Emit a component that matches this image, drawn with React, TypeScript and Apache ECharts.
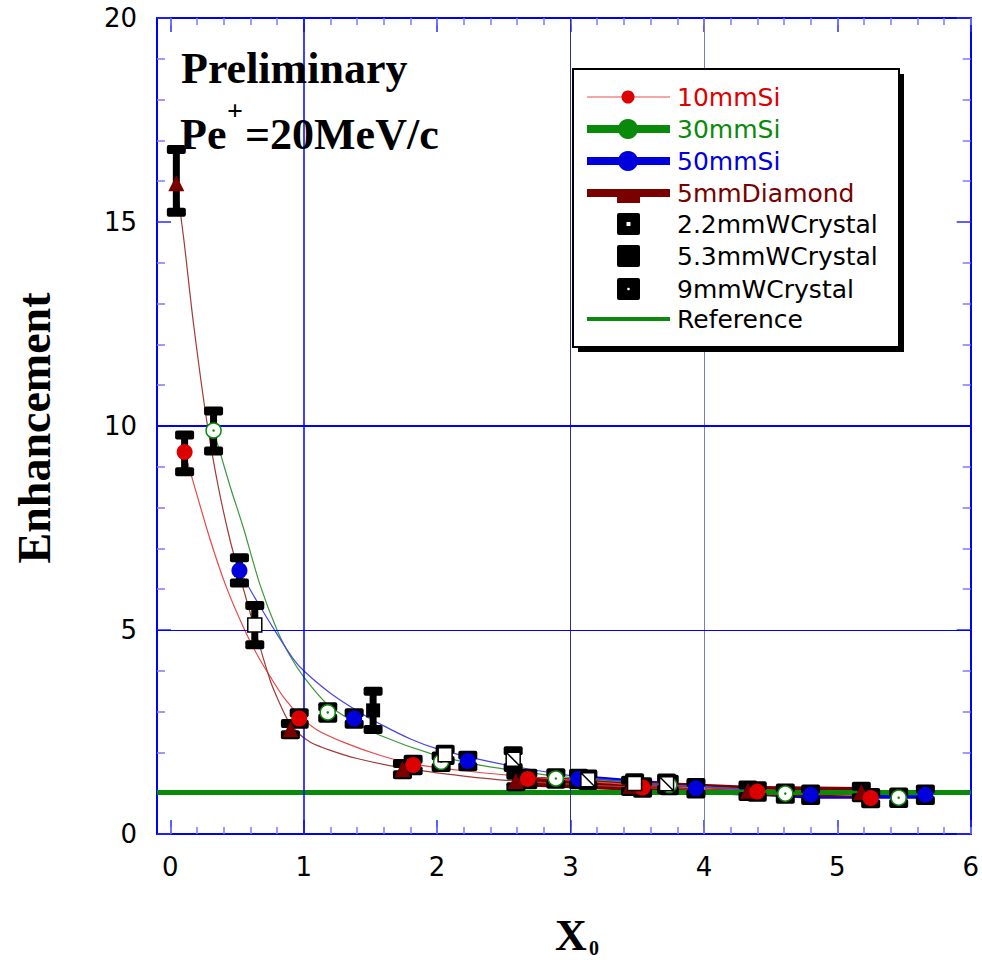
import React, { useEffect, useRef } from 'react';
import * as echarts from 'echarts';

// ---- ticks ----
const xMajorTicks = [0, 1, 2, 3, 4, 5, 6];
const xMinorTicks = [0, 0.2, 0.4, 0.6, 0.8, 1, 1.2, 1.4, 1.6, 1.8, 2, 2.2, 2.4, 2.6, 2.8, 3, 3.2, 3.4, 3.6, 3.8, 4, 4.2, 4.4, 4.6, 4.8, 5, 5.2, 5.4, 5.6, 5.8, 6];
const xLabels = ['0', '1', '2', '3', '4', '5', '6'];

// ---- measured points [x, enhancement] and error ranges [low, high] ----
const si10 = [[0.107, 9.36], [0.966, 2.83], [1.82, 1.69], [2.68, 1.35], [3.54, 1.14], [4.40, 1.04], [5.25, 0.88]];
const si10Err = [[8.88, 9.78], [2.69, 2.97], [1.55, 1.83], [1.21, 1.49], [1.0, 1.28], [0.9, 1.18], [0.74, 1.02]];

const si30 = [[0.324, 9.89], [1.18, 2.98], [2.03, 1.77], [2.89, 1.36], [3.74, 1.2], [4.61, 0.99], [5.46, 0.89]];
const si30Err = [[9.39, 10.37], [2.84, 3.12], [1.63, 1.91], [1.22, 1.5], [1.06, 1.34], [0.85, 1.13], [0.75, 1.03]];

const si50 = [[0.518, 6.46], [1.378, 2.83], [2.23, 1.79], [3.06, 1.35], [3.94, 1.12], [4.80, 0.96], [5.66, 0.96]];
const si50Err = [[6.15, 6.77], [2.69, 2.97], [1.65, 1.93], [1.21, 1.49], [0.98, 1.26], [0.82, 1.1], [0.82, 1.1]];

const diamond5 = [[0.045, 15.95], [0.90, 2.57], [1.74, 1.59], [2.59, 1.30], [3.45, 1.18], [4.33, 1.06], [5.18, 1.03]];
const diamond5Err = [[15.24, 16.78], [2.43, 2.71], [1.45, 1.73], [1.16, 1.44], [1.04, 1.32], [0.92, 1.2], [0.89, 1.17]];

const w22 = [[0.633, 5.12], [2.06, 1.94], [3.48, 1.24]];
const w22Err = [[4.64, 5.6], [1.8, 2.08], [1.1, 1.38]];

const w53 = [[1.52, 3.03]];
const w53Err = [[2.56, 3.5]];

const w9 = [[2.57, 1.83], [3.13, 1.33], [3.72, 1.23]];
const w9Err = [[1.63, 2.04], [1.19, 1.47], [1.09, 1.37]];

const reference = [[-0.1, 1.02], [6, 1.02]];

// ---- fitted curves ----
const fit10 = [[0.107, 9.36], [0.174, 8.6], [0.30, 7.2], [0.42, 6.05], [0.55, 5.05], [0.65, 4.4], [0.75, 3.85], [0.85, 3.35], [0.97, 2.9], [1.1, 2.55], [1.32, 2.22], [1.57, 1.93], [1.82, 1.72], [2.2, 1.55], [2.57, 1.43], [3.0, 1.32], [3.5, 1.2], [4.4, 1.06], [5.25, 0.92]];
const fitDiamond = [[0.045, 15.95], [0.10, 14.6], [0.174, 12.5], [0.274, 10.1], [0.36, 8.5], [0.448, 7.2], [0.523, 6.3], [0.635, 5.0], [0.75, 3.75], [0.82, 3.2], [0.88, 2.8], [0.95, 2.5], [1.05, 2.25], [1.2, 2.05], [1.4, 1.85], [1.74, 1.62], [2.2, 1.42], [2.59, 1.30], [3.45, 1.15], [4.33, 1.06], [5.18, 0.98]];
const fit30 = [[0.324, 9.89], [0.374, 9.34], [0.45, 8.5], [0.548, 7.5], [0.673, 6.1], [0.80, 5.0], [0.90, 4.35], [1.0, 3.85], [1.17, 3.2], [1.35, 2.8], [1.57, 2.42], [1.97, 1.95], [2.3, 1.7], [2.57, 1.56], [2.89, 1.42], [3.3, 1.3], [3.74, 1.2], [4.61, 1.06], [5.46, 0.96]];
const fit50 = [[0.518, 6.46], [0.648, 5.71], [0.80, 4.9], [0.92, 4.3], [1.0, 4.0], [1.2, 3.45], [1.42, 2.98], [1.6, 2.65], [1.8, 2.33], [1.99, 2.1], [2.3, 1.84], [2.57, 1.66], [2.96, 1.45], [3.5, 1.26], [3.94, 1.16], [4.8, 1.02], [5.66, 0.96]];

const RED = '#dd0000';
const GREEN = '#0a8a0a';
const BLUE = '#0000dd';
const DRED = '#7a0000';

const LEG_FONT = '"DejaVu Sans", Verdana, sans-serif';
const SERIF = '"Liberation Serif", "Times New Roman", serif';

function errRows(pts: number[][], err: number[][]) {
  return pts.map((p, i) => [p[0], err[i][0], err[i][1]]);
}

export default function App() {
  const ref = useRef<HTMLDivElement>(null);
  useEffect(() => {
    const chart = echarts.init(ref.current!, null, { renderer: 'svg' });

    const errData = [
      ...errRows(diamond5, diamond5Err),
      ...errRows(si10, si10Err),
      ...errRows(si30, si30Err),
      ...errRows(si50, si50Err),
      ...errRows(w22, w22Err),
      ...errRows(w53, w53Err),
      ...errRows(w9, w9Err),
    ];

    const fitLine = (name: string, data: number[][], color: string) => ({
      name, type: 'line', data, smooth: 0.3, showSymbol: false, silent: true,
      lineStyle: { color, width: 1.2 }, z: 3,
    });

    const legendRowsY = [97, 129, 161, 193, 224, 256, 289, 319];
    const legendTexts = ['10mmSi', '30mmSi', '50mmSi', '5mmDiamond', '2.2mmWCrystal', '5.3mmWCrystal', '9mmWCrystal', 'Reference'];
    const legendColors = [RED, GREEN, BLUE, DRED, '#000', '#000', '#000', '#000'];
    const lx0 = 587, lx1 = 670, lmx = 628;

    const legendGraphics: any[] = [
      { type: 'rect', shape: { x: 578, y: 74, width: 326, height: 278 }, style: { fill: '#000' }, z: 100 },
      { type: 'rect', shape: { x: 573, y: 69, width: 326, height: 278 }, style: { fill: '#fff', stroke: '#000', lineWidth: 2 }, z: 101 },
      // 10mmSi
      { type: 'line', shape: { x1: lx0, y1: legendRowsY[0], x2: lx1, y2: legendRowsY[0] }, style: { stroke: '#e85050', lineWidth: 1.2 }, z: 102 },
      { type: 'circle', shape: { cx: lmx, cy: legendRowsY[0], r: 6.5 }, style: { fill: RED }, z: 103 },
      // 30mmSi
      { type: 'line', shape: { x1: lx0, y1: legendRowsY[1], x2: lx1, y2: legendRowsY[1] }, style: { stroke: GREEN, lineWidth: 8 }, z: 102 },
      { type: 'circle', shape: { cx: lmx, cy: legendRowsY[1], r: 10 }, style: { fill: GREEN }, z: 103 },
      // 50mmSi
      { type: 'line', shape: { x1: lx0, y1: legendRowsY[2], x2: lx1, y2: legendRowsY[2] }, style: { stroke: BLUE, lineWidth: 8 }, z: 102 },
      { type: 'circle', shape: { cx: lmx, cy: legendRowsY[2], r: 10 }, style: { fill: BLUE }, z: 103 },
      // 5mmDiamond
      { type: 'line', shape: { x1: lx0, y1: legendRowsY[3], x2: lx1, y2: legendRowsY[3] }, style: { stroke: DRED, lineWidth: 8 }, z: 102 },
      { type: 'rect', shape: { x: 617, y: legendRowsY[3] - 3, width: 23, height: 13 }, style: { fill: DRED }, z: 103 },
      // 2.2mm
      { type: 'rect', shape: { x: 617, y: legendRowsY[4] - 11, width: 23, height: 22, r: 2 }, style: { fill: '#000' }, z: 103 },
      { type: 'rect', shape: { x: 626.5, y: legendRowsY[4] - 2, width: 4, height: 4 }, style: { fill: '#fff' }, z: 104 },
      // 5.3mm
      { type: 'rect', shape: { x: 617, y: legendRowsY[5] - 11, width: 23, height: 22, r: 2 }, style: { fill: '#000' }, z: 103 },
      // 9mm
      { type: 'rect', shape: { x: 617, y: legendRowsY[6] - 11, width: 23, height: 22, r: 2 }, style: { fill: '#000' }, z: 103 },
      { type: 'circle', shape: { cx: 628.5, cy: legendRowsY[6], r: 1.3 }, style: { fill: '#fff' }, z: 104 },
      // Reference
      { type: 'line', shape: { x1: lx0, y1: legendRowsY[7], x2: lx1, y2: legendRowsY[7] }, style: { stroke: GREEN, lineWidth: 4 }, z: 102 },
      ...legendTexts.map((t, i) => ({
        type: 'text', x: 677, y: legendRowsY[i], z: 105,
        style: { text: t, fill: legendColors[i], fontSize: 25, fontFamily: LEG_FONT, align: 'left', verticalAlign: 'middle' },
      })),
    ];

    const titleGraphics: any[] = [
      { type: 'text', x: 181, y: 68, z: 90, style: { text: 'Preliminary', fill: '#000', fontSize: 44, fontWeight: 'bold', fontFamily: SERIF, align: 'left', verticalAlign: 'middle' } },
      { type: 'text', x: 180, y: 134, z: 90, style: { text: 'Pe', fill: '#000', fontSize: 44, fontWeight: 'bold', fontFamily: SERIF, align: 'left', verticalAlign: 'middle' } },
      { type: 'text', x: 227, y: 110, z: 90, style: { text: '+', fill: '#000', fontSize: 28, fontWeight: 'bold', fontFamily: SERIF, align: 'left', verticalAlign: 'middle' } },
      { type: 'text', x: 245, y: 134, z: 90, style: { text: '=20MeV/c', fill: '#000', fontSize: 44, fontWeight: 'bold', fontFamily: SERIF, align: 'left', verticalAlign: 'middle' } },
      { type: 'text', x: 34, y: 428, rotation: Math.PI / 2, z: 90, style: { text: 'Enhancement', fill: '#000', fontSize: 46, fontWeight: 'bold', fontFamily: SERIF, align: 'center', verticalAlign: 'middle' } },
      { type: 'text', x: 571, y: 935, z: 90, style: { text: 'X', fill: '#000', fontSize: 44, fontWeight: 'bold', fontFamily: SERIF, align: 'center', verticalAlign: 'middle' } },
      { type: 'text', x: 589, y: 948, z: 90, style: { text: '0', fill: '#000', fontSize: 20, fontWeight: 'bold', fontFamily: SERIF, align: 'left', verticalAlign: 'middle' } },
    ];

    const axisBlue = '#0000ff';
    const tickMajor = { color: '#2a2aff', width: 1.5 };
    const tickMinor = { color: '#7a7aff', width: 1.5 };

    const option: any = {
      animation: false,
      backgroundColor: '#fff',
      grid: { left: 157, top: 18, width: 816, height: 816, containLabel: false },
      xAxis: [
        {
          type: 'value', min: -0.1, max: 6, position: 'bottom',
          axisLine: { show: true, onZero: false, lineStyle: { color: axisBlue, width: 2 } },
          axisTick: { show: true, inside: true, length: 14, customValues: xMajorTicks, lineStyle: tickMajor },
          axisLabel: { show: true, customValues: xMajorTicks, formatter: (v: number) => xLabels[xMajorTicks.indexOf(v)] ?? String(v), color: '#000', fontSize: 26, fontFamily: LEG_FONT, margin: 20 },
          splitLine: { show: false },
        },
        {
          type: 'value', min: -0.1, max: 6, position: 'bottom',
          axisLine: { show: false, onZero: false },
          axisTick: { show: true, inside: true, length: 7, customValues: xMinorTicks, lineStyle: tickMinor },
          axisLabel: { show: false }, splitLine: { show: false },
        },
        {
          type: 'value', min: -0.1, max: 6, position: 'top',
          axisLine: { show: true, onZero: false, lineStyle: { color: axisBlue, width: 2 } },
          axisTick: { show: true, inside: true, length: 14, customValues: xMajorTicks, lineStyle: tickMajor },
          axisLabel: { show: false }, splitLine: { show: false },
        },
        {
          type: 'value', min: -0.1, max: 6, position: 'top',
          axisLine: { show: false, onZero: false },
          axisTick: { show: true, inside: true, length: 7, customValues: xMinorTicks, lineStyle: tickMinor },
          axisLabel: { show: false }, splitLine: { show: false },
        },
      ],
      yAxis: [
        {
          type: 'value', min: 0, max: 20, interval: 5, position: 'left',
          axisLine: { show: true, onZero: false, lineStyle: { color: axisBlue, width: 2 } },
          axisTick: { show: true, inside: true, length: 14, lineStyle: tickMajor },
          minorTick: { show: true, splitNumber: 5, length: 8, lineStyle: tickMinor },
          axisLabel: { color: '#000', fontSize: 26, fontFamily: LEG_FONT, margin: 20 },
          splitLine: { show: false },
        },
        {
          type: 'value', min: 0, max: 20, interval: 5, position: 'right',
          axisLine: { show: true, onZero: false, lineStyle: { color: axisBlue, width: 2 } },
          axisTick: { show: true, inside: true, length: 14, lineStyle: tickMajor },
          minorTick: { show: true, splitNumber: 5, length: 8, lineStyle: tickMinor },
          axisLabel: { show: false },
          splitLine: { show: false },
        },
      ],
      graphic: [...titleGraphics, ...legendGraphics],
      series: [
        {
          name: 'gridlines', type: 'line', data: [], z: 1, silent: true,
          markLine: {
            silent: true, symbol: ['none', 'none'], label: { show: false }, animation: false,
            data: [
              { xAxis: 1, lineStyle: { color: '#0000ff', width: 1.5, type: 'solid' } },
              { xAxis: 3, lineStyle: { color: '#303090', width: 1, type: 'solid' } },
              { xAxis: 4, lineStyle: { color: '#7a7ac8', width: 1, type: 'solid' } },
              { yAxis: 5, lineStyle: { color: '#0000ff', width: 1, type: 'solid' } },
              { yAxis: 10, lineStyle: { color: '#0000ff', width: 2, type: 'solid' } },
            ],
          },
        },
        { name: '50mmSi band', type: 'line', data: si50.slice(3), showSymbol: false, silent: true, lineStyle: { color: BLUE, width: 8 }, z: 2 },
        { name: '5mmDiamond band', type: 'line', data: diamond5.slice(3), showSymbol: false, silent: true, lineStyle: { color: DRED, width: 10 }, z: 2 },
        fitLine('fit 10mmSi', fit10, '#e84848'),
        fitLine('fit 5mmDiamond', fitDiamond, '#a23a3a'),
        fitLine('fit 30mmSi', fit30, '#3a9a3a'),
        fitLine('fit 50mmSi', fit50, '#4646e6'),
        { name: 'Reference', type: 'line', data: reference, showSymbol: false, silent: true, lineStyle: { color: GREEN, width: 5 }, z: 4 },
        {
          name: 'errors', type: 'custom', z: 5, silent: true, data: errData,
          encode: { x: 0, y: [1, 2] },
          renderItem: (params: any, api: any) => {
            const x = api.value(0), lo = api.value(1), hi = api.value(2);
            const a = api.coord([x, hi]);
            const b = api.coord([x, lo]);
            const capW = 19, capH = 9, stemW = 7;
            return {
              type: 'group',
              children: [
                { type: 'rect', shape: { x: a[0] - stemW / 2, y: a[1], width: stemW, height: b[1] - a[1] }, style: { fill: '#000' } },
                { type: 'rect', shape: { x: a[0] - capW / 2, y: a[1] - capH / 2, width: capW, height: capH, r: 2 }, style: { fill: '#000' } },
                { type: 'rect', shape: { x: b[0] - capW / 2, y: b[1] - capH / 2, width: capW, height: capH, r: 2 }, style: { fill: '#000' } },
              ],
            };
          },
        },
        { name: '5mmDiamond', type: 'scatter', data: diamond5, symbol: 'triangle', symbolSize: 16, itemStyle: { color: DRED, opacity: 1 }, z: 6 },
        { name: '10mmSi', type: 'scatter', data: si10, symbol: 'circle', symbolSize: 16, itemStyle: { color: RED, opacity: 1 }, z: 6 },
        { name: '30mmSi', type: 'scatter', data: si30, symbol: 'circle', symbolSize: 15, itemStyle: { color: '#fff', borderColor: GREEN, borderWidth: 1.5, opacity: 1 }, z: 6 },
        { name: '30mmSi dot', type: 'scatter', data: si30, symbol: 'circle', symbolSize: 2.5, itemStyle: { color: GREEN, opacity: 1 }, z: 7 },
        { name: '50mmSi', type: 'scatter', data: si50, symbol: 'circle', symbolSize: 16, itemStyle: { color: BLUE, opacity: 1 }, z: 6 },
        { name: '2.2mmWCrystal', type: 'scatter', data: w22, symbol: 'rect', symbolSize: 14, itemStyle: { color: '#fff', borderColor: '#000', borderWidth: 1.5, opacity: 1 }, z: 7 },
        { name: '5.3mmWCrystal', type: 'scatter', data: w53, symbol: 'rect', symbolSize: 14, itemStyle: { color: '#000', opacity: 1 }, z: 7 },
        { name: '9mmWCrystal', type: 'scatter', data: w9, symbol: 'path://M1,1L19,1L19,19L1,19ZM1,1L19,19', symbolSize: 14, itemStyle: { color: '#fff', borderColor: '#000', borderWidth: 1.5, opacity: 1 }, z: 7 },
      ],
    };

    chart.setOption(option);
    return () => chart.dispose();
  }, []);

  return <div ref={ref} style={{ position: 'fixed', left: 0, top: 0, width: 982, height: 960, background: '#fff' }} />;
}
